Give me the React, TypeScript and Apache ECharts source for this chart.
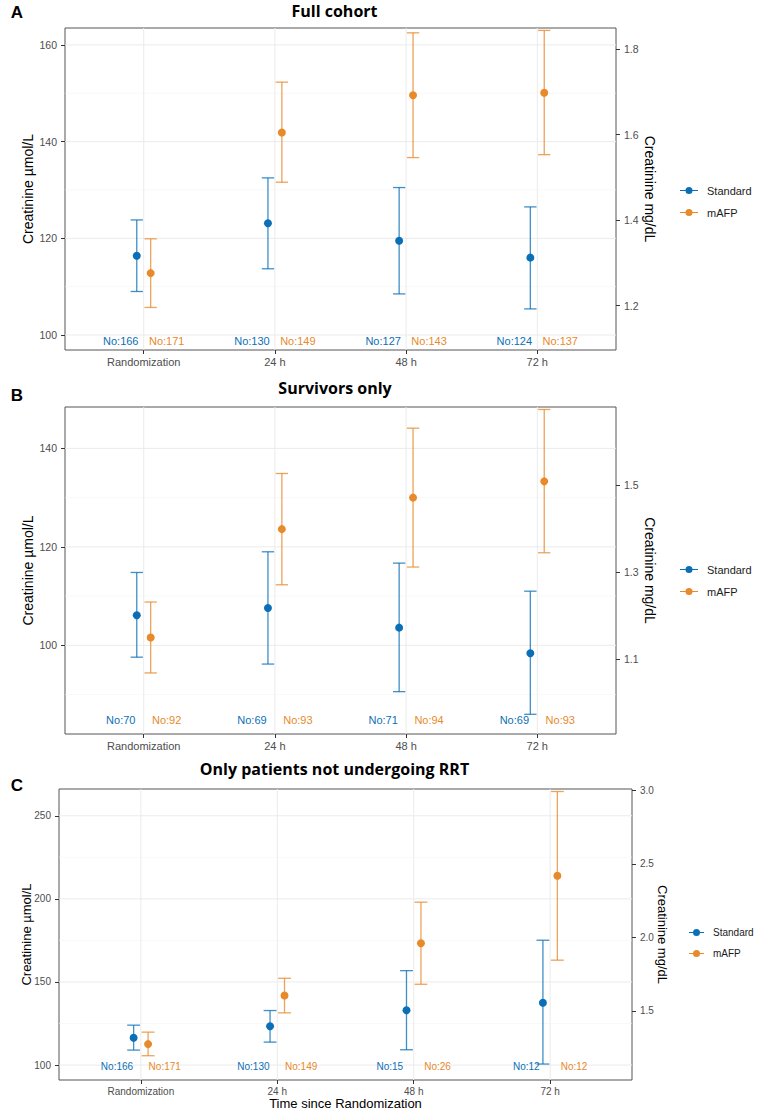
import React, { useEffect, useRef } from 'react';
import * as echarts from 'echarts';

// ---------------- data ----------------
const categories = ['Randomization', '24 h', '48 h', '72 h'];
const groupNames = ['Standard', 'mAFP'];

// Panel A: Full cohort (µmol/L)
const aStdMean = [116.4, 123.1, 119.5, 116.0];
const aStdLow = [109.0, 113.7, 108.5, 105.4];
const aStdHigh = [123.8, 132.5, 130.5, 126.5];
const aAfpMean = [112.8, 141.9, 149.6, 150.1];
const aAfpLow = [105.7, 131.6, 136.7, 137.3];
const aAfpHigh = [119.9, 152.3, 162.5, 163.0];
const aStdN = [166, 130, 127, 124];
const aAfpN = [171, 149, 143, 137];
const aLeftTicks = [100, 120, 140, 160];
const aLeftMinor = [110, 130, 150];
const aRightTicks = [1.2, 1.4, 1.6, 1.8];

// Panel B: Survivors only
const bStdMean = [106.1, 107.6, 103.6, 98.4];
const bStdLow = [97.6, 96.2, 90.6, 86.0];
const bStdHigh = [114.8, 119.0, 116.7, 111.0];
const bAfpMean = [101.6, 123.6, 130.0, 133.3];
const bAfpLow = [94.4, 112.3, 115.9, 118.8];
const bAfpHigh = [108.8, 134.9, 144.1, 147.9];
const bStdN = [70, 69, 71, 69];
const bAfpN = [92, 93, 94, 93];
const bLeftTicks = [100, 120, 140];
const bLeftMinor = [90, 110, 130];
const bRightTicks = [1.1, 1.3, 1.5];

// Panel C: Only patients not undergoing RRT
const cStdMean = [116.4, 123.3, 133.0, 137.5];
const cStdLow = [109.0, 113.8, 109.2, 100.6];
const cStdHigh = [124.0, 132.8, 156.8, 175.1];
const cAfpMean = [112.6, 141.8, 173.3, 213.9];
const cAfpLow = [105.6, 131.4, 148.6, 163.1];
const cAfpHigh = [119.8, 152.2, 198.0, 264.6];
const cStdN = [166, 130, 15, 12];
const cAfpN = [171, 149, 26, 12];
const cLeftTicks = [100, 150, 200, 250];
const cLeftMinor = [125, 175, 225];
const cRightTicks = [1.5, 2.0, 2.5, 3.0];

const MG_PER_UMOL = 88.4;

// ---------------- styles ----------------
const COLORS: Record<string, string> = { Standard: '#0A6FB7', mAFP: '#E8892A' };
const FONT = '"Liberation Sans", Arial, sans-serif';
const TITLE_FONT = '"Open Sans", "Noto Sans", sans-serif';
const DODGE = 0.053;
const CAP_HALF = 0.047;
const LABEL_OFF = 0.175;

const panels = [
  {
    letter: 'A', title: 'Full cohort',
    grid: { left: 65, top: 28, width: 551, height: 322 },
    yMin: 96.9, yMax: 163.5, labelY: 98.8,
    leftTicks: aLeftTicks, leftMinor: aLeftMinor, rightTicks: aRightTicks,
    groups: [
      { mean: aStdMean, low: aStdLow, high: aStdHigh, n: aStdN },
      { mean: aAfpMean, low: aAfpLow, high: aAfpHigh, n: aAfpN },
    ],
    fs: { ytick: 10.5, xtick: 11, axTitle: 14, label: 11, legend: 11 },
    titleY: 10.5, letterY: 12, titleX: 334.5,
    legend: { left: 680, top: 185, itemWidth: 18, itemGap: 11 },
    leftGap: 30, rightGap: 27, xName: '',
  },
  {
    letter: 'B', title: 'Survivors only',
    grid: { left: 65, top: 407, width: 551, height: 327 },
    yMin: 82.0, yMax: 148.4, labelY: 84.8,
    leftTicks: bLeftTicks, leftMinor: bLeftMinor, rightTicks: bRightTicks,
    groups: [
      { mean: bStdMean, low: bStdLow, high: bStdHigh, n: bStdN },
      { mean: bAfpMean, low: bAfpLow, high: bAfpHigh, n: bAfpN },
    ],
    fs: { ytick: 10.5, xtick: 11, axTitle: 14, label: 11, legend: 11 },
    titleY: 387.5, letterY: 395, titleX: 335,
    legend: { left: 680, top: 564, itemWidth: 18, itemGap: 11 },
    leftGap: 30, rightGap: 27, xName: '',
  },
  {
    letter: 'C', title: 'Only patients not undergoing RRT',
    grid: { left: 59, top: 789, width: 573, height: 291 },
    yMin: 91.0, yMax: 266.1, labelY: 99,
    leftTicks: cLeftTicks, leftMinor: cLeftMinor, rightTicks: cRightTicks,
    groups: [
      { mean: cStdMean, low: cStdLow, high: cStdHigh, n: cStdN },
      { mean: cAfpMean, low: cAfpLow, high: cAfpHigh, n: cAfpN },
    ],
    fs: { ytick: 10, xtick: 10, axTitle: 13, label: 10, legend: 10 },
    titleY: 769, letterY: 785, titleX: 334.5,
    legend: { left: 689, top: 927.5, itemWidth: 15, itemGap: 11 },
    leftGap: 26.5, rightGap: 23.5, xName: 'Time since Randomization',
  },
];

function legendIcon(w: number) {
  const c = w / 2;
  return `path://M0,3.4L${w},3.4L${w},4.6L0,4.6Z M${c - 3.5},4A3.5,3.5,0,1,1,${c + 3.5},4A3.5,3.5,0,1,1,${c - 3.5},4Z`;
}

function buildOption() {
  const grids: any[] = [];
  const xAxes: any[] = [];
  const yAxes: any[] = [];
  const series: any[] = [];
  const legends: any[] = [];
  const graphics: any[] = [];

  panels.forEach((p, i) => {
    grids.push({ ...p.grid, show: true, borderColor: '#555', borderWidth: 1, backgroundColor: 'transparent', containLabel: false });
    const catIdx = categories.map((_, k) => k);
    xAxes.push({
      type: 'value', gridIndex: i, min: -0.6, max: 3.6, position: 'bottom',
      axisLine: { show: false, onZero: false }, splitLine: { show: false },
      axisTick: { show: true, customValues: catIdx, length: 4, lineStyle: { color: '#333', width: 1 } },
      axisLabel: {
        customValues: catIdx, margin: 6, color: '#4D4D4D', fontSize: p.fs.xtick, fontFamily: FONT,
        formatter: (v: number) => categories[Math.round(v)] ?? '',
      },
      name: p.xName, nameLocation: 'middle', nameGap: 17, nameMoveOverlap: false,
      nameTextStyle: { color: '#000', fontSize: 13, fontFamily: FONT },
    });
    yAxes.push({
      type: 'value', gridIndex: i, position: 'left', min: p.yMin, max: p.yMax,
      axisLine: { show: false, onZero: false }, splitLine: { show: false },
      axisTick: { show: true, customValues: p.leftTicks, length: 4, lineStyle: { color: '#333', width: 1 } },
      axisLabel: { customValues: p.leftTicks, margin: 8, color: '#4D4D4D', fontSize: p.fs.ytick, fontFamily: FONT },
      name: 'Creatinine µmol/L', nameLocation: 'middle', nameGap: p.leftGap, nameRotate: 90, nameMoveOverlap: false,
      nameTextStyle: { color: '#000', fontSize: p.fs.axTitle, fontFamily: FONT },
    });
    yAxes.push({
      type: 'value', gridIndex: i, position: 'right',
      min: p.yMin / MG_PER_UMOL, max: p.yMax / MG_PER_UMOL,
      axisLine: { show: false, onZero: false }, splitLine: { show: false },
      axisTick: { show: true, customValues: p.rightTicks, length: 4, lineStyle: { color: '#333', width: 1 } },
      axisLabel: {
        customValues: p.rightTicks, margin: 8, color: '#4D4D4D', fontSize: p.fs.ytick, fontFamily: FONT,
        formatter: (v: number) => v.toFixed(1),
      },
      name: 'Creatinine mg/dL', nameLocation: 'middle', nameGap: p.rightGap, nameRotate: -90, nameMoveOverlap: false,
      nameTextStyle: { color: '#000', fontSize: p.fs.axTitle, fontFamily: FONT },
    });

    const yIdx = 2 * i;
    // grid lines
    const gridData: number[][] = [];
    catIdx.forEach((c) => gridData.push([0, c, 0]));
    p.leftTicks.forEach((v) => gridData.push([1, v, 0]));
    p.leftMinor.forEach((v) => gridData.push([1, v, 1]));
    series.push({
      type: 'custom', xAxisIndex: i, yAxisIndex: yIdx, silent: true, z: 1,
      data: gridData,
      renderItem: (params: any, api: any) => {
        const cs = params.coordSys;
        const o = api.value(0), v = api.value(1), minor = api.value(2);
        const style = { stroke: minor ? '#F3F3F3' : '#EBEBEB', lineWidth: minor ? 0.6 : 1 };
        if (o === 0) {
          const px = api.coord([v, p.yMin])[0];
          return { type: 'line', shape: { x1: px, y1: cs.y, x2: px, y2: cs.y + cs.height }, style };
        }
        const py = api.coord([0, v])[1];
        return { type: 'line', shape: { x1: cs.x, y1: py, x2: cs.x + cs.width, y2: py }, style };
      },
    });

    p.groups.forEach((g, gi) => {
      const name = groupNames[gi];
      const color = COLORS[name];
      const off = gi === 0 ? -DODGE : DODGE;
      series.push({
        type: 'custom', name, xAxisIndex: i, yAxisIndex: yIdx, z: 2,
        itemStyle: { color },
        encode: { x: 0, y: [1, 2] },
        data: catIdx.map((k) => [k + off, g.low[k], g.high[k]]),
        renderItem: (params: any, api: any) => {
          const x = api.value(0), lo = api.value(1), hi = api.value(2);
          const pLo = api.coord([x, lo]);
          const pHi = api.coord([x, hi]);
          const hw = api.size([CAP_HALF, 0])[0];
          const style = { stroke: color, lineWidth: 1.3, opacity: 0.78 };
          return {
            type: 'group',
            children: [
              { type: 'line', shape: { x1: pLo[0], y1: pLo[1], x2: pHi[0], y2: pHi[1] }, style },
              { type: 'line', shape: { x1: pHi[0] - hw, y1: pHi[1], x2: pHi[0] + hw, y2: pHi[1] }, style },
              { type: 'line', shape: { x1: pLo[0] - hw, y1: pLo[1], x2: pLo[0] + hw, y2: pLo[1] }, style },
            ],
          };
        },
      });
      series.push({
        type: 'scatter', name, xAxisIndex: i, yAxisIndex: yIdx, z: 3,
        symbol: 'circle', symbolSize: 8,
        itemStyle: { color, opacity: 1 },
        data: catIdx.map((k) => [k + off, g.mean[k]]),
      });
      const lOff = gi === 0 ? -LABEL_OFF : LABEL_OFF;
      series.push({
        type: 'custom', xAxisIndex: i, yAxisIndex: yIdx, z: 3, silent: true,
        data: catIdx.map((k) => [k + lOff, p.labelY, g.n[k]]),
        renderItem: (params: any, api: any) => {
          const pt = api.coord([api.value(0), api.value(1)]);
          return {
            type: 'text', x: pt[0], y: pt[1],
            style: {
              text: 'No:' + api.value(2), fill: color, fontSize: p.fs.label, fontFamily: FONT,
              align: 'center', verticalAlign: 'middle', textAlign: 'center', textVerticalAlign: 'middle',
            },
          };
        },
      });
    });

    legends.push({
      data: groupNames, orient: 'vertical', left: p.legend.left, top: p.legend.top, padding: 0,
      itemWidth: p.legend.itemWidth, itemHeight: 7, itemGap: p.legend.itemGap,
      icon: legendIcon(p.legend.itemWidth), selectedMode: false,
      textStyle: { color: '#1A1A1A', fontSize: p.fs.legend, fontFamily: FONT, padding: [0, 0, 0, 4] },
    });

    graphics.push({
      type: 'text', x: p.titleX, y: p.titleY,
      style: {
        text: p.title, fill: '#000', fontSize: 16, fontWeight: 'bold', fontFamily: TITLE_FONT,
        align: 'center', verticalAlign: 'middle', textAlign: 'center', textVerticalAlign: 'middle',
      },
    });
    graphics.push({
      type: 'text', x: 17, y: p.letterY,
      style: {
        text: p.letter, fill: '#000', fontSize: 17, fontWeight: 'bold', fontFamily: FONT,
        align: 'center', verticalAlign: 'middle', textAlign: 'center', textVerticalAlign: 'middle',
      },
    });
  });

  return {
    animation: false,
    backgroundColor: '#fff',
    grid: grids,
    xAxis: xAxes,
    yAxis: yAxes,
    legend: legends,
    series,
    graphic: graphics,
  };
}

export default function App() {
  const ref = useRef<HTMLDivElement>(null);
  useEffect(() => {
    if (!ref.current) return;
    const chart = echarts.init(ref.current, undefined, { renderer: 'svg' });
    chart.setOption(buildOption() as any);
    return () => chart.dispose();
  }, []);
  return (
    <div
      ref={ref}
      style={{ position: 'absolute', left: 0, top: 0, width: 757, height: 1111, background: '#fff' }}
    />
  );
}
